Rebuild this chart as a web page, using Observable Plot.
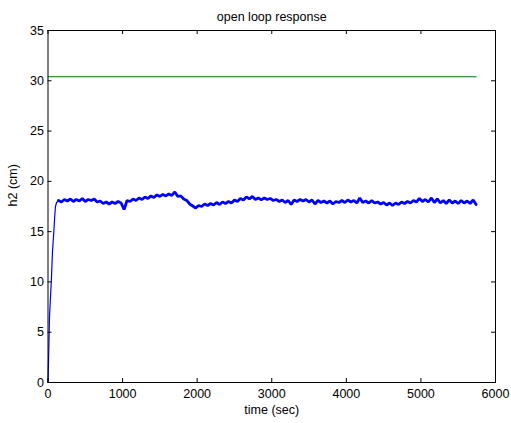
<!DOCTYPE html>
<html>
<head>
<meta charset="utf-8">
<script src="https://cdn.jsdelivr.net/npm/d3@7"></script>
<script src="https://cdn.jsdelivr.net/npm/@observablehq/plot@0.6"></script>
<style>
  html, body { margin: 0; padding: 0; background: #fff; }
  svg { display: block; }
</style>
</head>
<body>
<div id="chart"></div>
<script>
// Tick labels
const xTicks = [0, 1000, 2000, 3000, 4000, 5000, 6000];
const yTicks = [0, 5, 10, 15, 20, 25, 30, 35];

// Initial rise of h2
const riseTime = [0, 10, 20, 30, 47, 60, 78, 90, 100, 115, 130, 140];
const riseH2   = [0, 3, 6.5, 8, 10.5, 13, 15, 16.5, 17.5, 17.9, 18.0, 18.1];

// Plateau of h2, sampled every 40 s starting at 140 s
const plateauStart = 140;
const plateauStep = 40;
const plateauH2 = [
  18.1, 17.95, 18.2, 18.05, 18.25, 18.0, 18.2, 18.05, 18.3, 18.0,
  18.2, 18.1, 18.25, 17.95, 18.05, 17.8, 17.95, 17.75, 17.95, 17.8,
  18.0, 17.85, 17.2, 18.1, 18.0, 18.25, 18.1, 18.35, 18.2, 18.45,
  18.3, 18.55, 18.4, 18.65, 18.5, 18.7, 18.55, 18.75, 18.6, 18.95,
  18.5, 18.55, 18.25, 18.1, 17.75, 17.55, 17.35, 17.6, 17.5, 17.75,
  17.6, 17.8, 17.65, 17.9, 17.7, 17.95, 17.8, 18.0, 17.85, 18.15,
  18.0, 18.3, 18.15, 18.45, 18.25, 18.5, 18.2, 18.35, 18.15, 18.35,
  18.2, 18.3, 18.1, 18.2, 18.0, 18.15, 17.9, 18.1, 17.7, 18.15,
  18.0, 18.2, 18.05, 18.2, 17.95, 18.15, 17.75, 18.1, 17.9, 18.05,
  17.85, 18.05, 17.75, 18.0, 17.9, 18.1, 17.9, 18.15, 17.95, 18.1,
  17.85, 18.35, 17.9, 18.05, 17.85, 18.1, 17.85, 17.95, 17.75, 17.9,
  17.65, 17.85, 17.6, 17.85, 17.7, 17.95, 17.8, 18.0, 17.85, 18.1,
  17.95, 18.3, 18.0, 18.2, 17.95, 18.35, 17.9, 18.25, 17.85, 18.1,
  17.8, 18.15, 17.85, 18.05, 17.8, 18.1, 17.85, 18.05, 17.8, 18.15,
  17.7
];

// Reference (setpoint) line
const refTime = [0, 5740];
const refH2 = [30.4, 30.4];

const riseData = riseTime.map((t, i) => ({t, h: riseH2[i]}));
const plateauData = plateauH2.map((h, i) => ({t: plateauStart + i * plateauStep, h}));
const refData = refTime.map((t, i) => ({t, h: refH2[i]}));

const W = 511, H = 423;
const mL = 47.5, mR = 16, mT = 30, mB = 41;
const frameW = W - mL - mR, frameH = H - mT - mB;
const tick = 4;
const font = "'Liberation Sans', Arial, sans-serif";

const chart = Plot.plot({
  width: W,
  height: H,
  marginLeft: mL,
  marginRight: mR,
  marginTop: mT,
  marginBottom: mB,
  style: {fontFamily: font, fontSize: "12.5px", background: "#fff", color: "#000"},
  x: {domain: [0, 6000]},
  y: {domain: [0, 35]},
  marks: [
    Plot.line(refData, {x: "t", y: "h", stroke: "#0b6e0b", strokeWidth: 1}),
    Plot.line(riseData, {x: "t", y: "h", stroke: "#0000ff", strokeWidth: 1.2}),
    Plot.line(plateauData, {x: "t", y: "h", stroke: "#0000ff", strokeWidth: 2.8, strokeLinejoin: "miter"}),
    // inward ticks on all four sides
    Plot.tickX(xTicks, {x: d => d, insetTop: frameH - tick, stroke: "#000"}),
    Plot.tickX(xTicks, {x: d => d, insetBottom: frameH - tick, stroke: "#000"}),
    Plot.tickY(yTicks, {y: d => d, insetRight: frameW - tick, stroke: "#000"}),
    Plot.tickY(yTicks, {y: d => d, insetLeft: frameW - tick, stroke: "#000"}),
    Plot.frame({stroke: "#000", strokeWidth: 1}),
    Plot.axisX({anchor: "bottom", ticks: xTicks, tickSize: 0, tickPadding: 7, label: null, tickFormat: d => String(d), fontSize: 12.5}),
    Plot.axisY({anchor: "left", ticks: yTicks, tickSize: 0, tickPadding: 4, label: null, tickFormat: d => String(d), fontSize: 12.5}),
    Plot.text(["time (sec)"], {frameAnchor: "bottom", dy: 31, text: d => d, fontSize: 12.5, fill: "#000"}),
    Plot.text(["h2 (cm)"], {frameAnchor: "left", dx: -35, rotate: -90, text: d => d, fontSize: 12.5, fill: "#000"}),
    Plot.text(["open loop response"], {frameAnchor: "top", dy: -18, text: d => d, fontSize: 12.5, fill: "#000"})
  ]
});
document.getElementById("chart").appendChild(chart);
</script>
</body>
</html>
